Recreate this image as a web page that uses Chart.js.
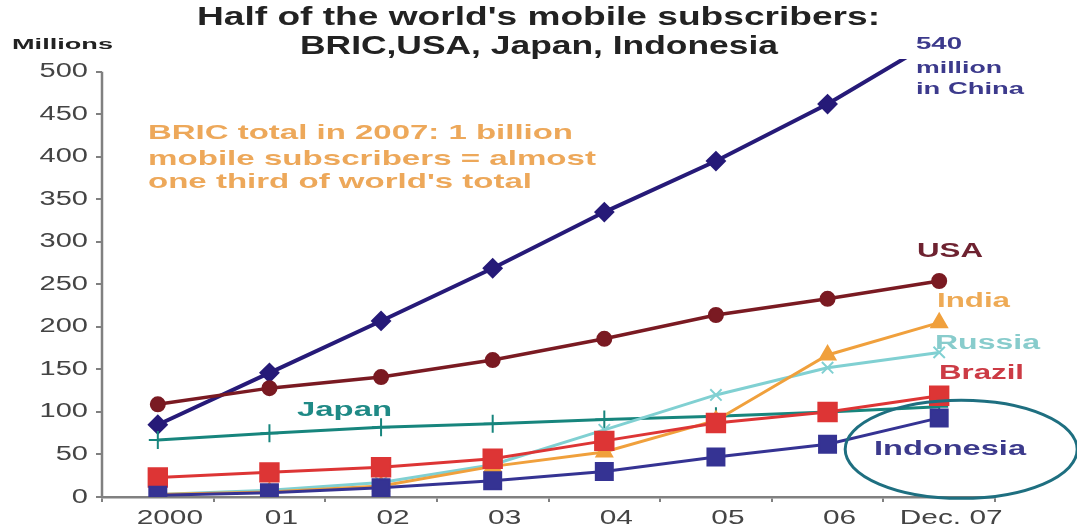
<!DOCTYPE html>
<html>
<head>
<meta charset="utf-8">
<script src="https://cdn.jsdelivr.net/npm/chart.js@4/dist/chart.umd.min.js"></script>
<style>
  html, body { margin: 0; padding: 0; background: #fff; overflow: hidden; }
  #subsChart { display: block; }
</style>
</head>
<body>
<canvas id="subsChart" width="1077" height="529"></canvas>
<script>
// categories and series (millions of mobile subscribers)
const years = ['2000', '01', '02', '03', '04', '05', '06', 'Dec. 07'];
const china = [85, 146, 207, 269, 335, 395, 462, 540];
const usa = [109, 128, 141, 161, 186, 214, 233, 254];
const india = [3, 6, 13, 36, 53, 90, 167, 205];
const russia = [3, 8, 17, 38, 79, 120, 152, 170];
const brazil = [23, 29, 35, 45, 66, 87, 100, 119];
const japan = [67, 75, 82, 86, 91, 95, 100, 106];
const indonesia = [2, 5, 11, 19, 30, 47, 62, 93];
const yTicks = [0, 50, 100, 150, 200, 250, 300, 350, 400, 450, 500];

const FONT = '"Liberation Sans", Arial, sans-serif';

function line(data, color, style, radius, width) {
    return {
        data: data,
        borderColor: color,
        backgroundColor: color,
        pointBackgroundColor: color,
        pointBorderColor: color,
        borderWidth: width || 3,
        pointStyle: style,
        pointRadius: radius,
        pointBorderWidth: 2,
        tension: 0,
        fill: false
    };
}

// the source picture is stretched sideways, so text is too
function wideText(ctx, text, x, y, sx, align) {
    ctx.save();
    ctx.translate(x, y);
    ctx.scale(sx, 1);
    ctx.textAlign = align;
    ctx.fillText(text, 0, 0);
    ctx.restore();
}
function fitText(ctx, text, left, y, width) {
    const w = ctx.measureText(text).width;
    wideText(ctx, text, left, y, width / w, 'left');
}

// titles, tick labels, series labels, ellipse and y axis line
const notes = {
    id: 'notes',
    afterDraw(chart) {
        const ctx = chart.ctx;
        const x = chart.scales.x, y = chart.scales.y;
        ctx.save();
        ctx.strokeStyle = '#808080';
        ctx.lineWidth = 2.5;
        ctx.beginPath();
        ctx.moveTo(x.left, y.getPixelForValue(0));
        ctx.lineTo(x.left, y.getPixelForValue(500));
        ctx.stroke();

        ctx.textBaseline = 'middle';
        ctx.fillStyle = '#444';
        ctx.font = '20px ' + FONT;
        yTicks.forEach(v => wideText(ctx, String(v), 88, y.getPixelForValue(v), 1.45, 'right'));
        ctx.font = '21px ' + FONT;
        years.forEach((lab, i) => wideText(ctx, lab, x.getPixelForValue(i) + 12, 518, 1.42, 'center'));

        ctx.fillStyle = '#222';
        ctx.font = 'bold 25px ' + FONT;
        fitText(ctx, "Half of the world's mobile subscribers:", 197, 18, 683);
        fitText(ctx, 'BRIC,USA, Japan, Indonesia', 300, 47, 478);

        ctx.font = 'bold 15px ' + FONT;
        fitText(ctx, 'Millions', 12, 45, 101);

        ctx.font = 'bold 16px ' + FONT;
        ctx.fillStyle = '#3c3a8c';
        fitText(ctx, '540', 916, 45, 46);
        fitText(ctx, 'million', 916, 69, 86);
        fitText(ctx, 'in China', 916, 90, 108);

        ctx.font = 'bold 21px ' + FONT;
        ctx.fillStyle = '#eda85a';
        fitText(ctx, 'BRIC total in 2007: 1 billion', 148, 133, 425);
        fitText(ctx, 'mobile subscribers = almost', 148, 159, 448);
        fitText(ctx, "one third of world's total", 148, 182, 384);

        ctx.font = 'bold 20px ' + FONT;
        ctx.fillStyle = '#6e2230'; fitText(ctx, 'USA', 917, 251, 66);
        ctx.fillStyle = '#eeaa55'; fitText(ctx, 'India', 937, 301, 73);
        ctx.fillStyle = '#88cccc'; fitText(ctx, 'Russia', 935, 343, 105);
        ctx.fillStyle = '#cc3b45'; fitText(ctx, 'Brazil', 939, 373, 85);
        ctx.fillStyle = '#1f8a86'; fitText(ctx, 'Japan', 297, 410, 95);
        ctx.fillStyle = '#3c3a8c'; fitText(ctx, 'Indonesia', 874, 449, 152);

        // ellipse round the Indonesia label
        ctx.strokeStyle = '#1e6f80';
        ctx.lineWidth = 3;
        ctx.beginPath();
        ctx.ellipse(x.getPixelForValue(7) + 22, y.getPixelForValue(56), 116, 49, 0, 0, Math.PI * 2);
        ctx.stroke();
        ctx.restore();
    }
};

new Chart(document.getElementById('subsChart').getContext('2d'), {
    type: 'line',
    data: {
        labels: years,
        datasets: [
            line(indonesia, '#353393', 'rect', 12),
            line(brazil, '#dd3535', 'rect', 13),
            line(india, '#f0a03c', 'triangle', 9),
            line(russia, '#80d0d2', 'crossRot', 8),
            line(japan, '#17857d', 'cross', 9),
            line(usa, '#7a1a22', 'circle', 7, 3.5),
            line(china, '#261a78', 'rectRot', 9, 4)
        ]
    },
    plugins: [notes],
    options: {
        responsive: false,
        animation: false,
        devicePixelRatio: 1,
        layout: { padding: { top: 59, right: 82, left: 0, bottom: 0 } },
        plugins: { legend: { display: false }, tooltip: { enabled: false } },
        scales: {
            x: {
                type: 'category',
                offset: true,
                afterFit: s => { s.height = 32; },
                border: { display: true, color: '#808080', width: 2.5 },
                grid: { offset: true, drawOnChartArea: false, tickLength: 5, color: '#808080', lineWidth: 2 },
                ticks: { display: false }
            },
            y: {
                min: 0,
                max: 515,
                afterBuildTicks: s => { s.ticks = yTicks.map(v => ({ value: v })); },
                afterFit: s => { s.width = 102; },
                border: { display: false },
                grid: { drawOnChartArea: false, tickLength: 6, color: '#808080', lineWidth: 2 },
                ticks: { display: false }
            }
        }
    }
});
</script>
</body>
</html>
